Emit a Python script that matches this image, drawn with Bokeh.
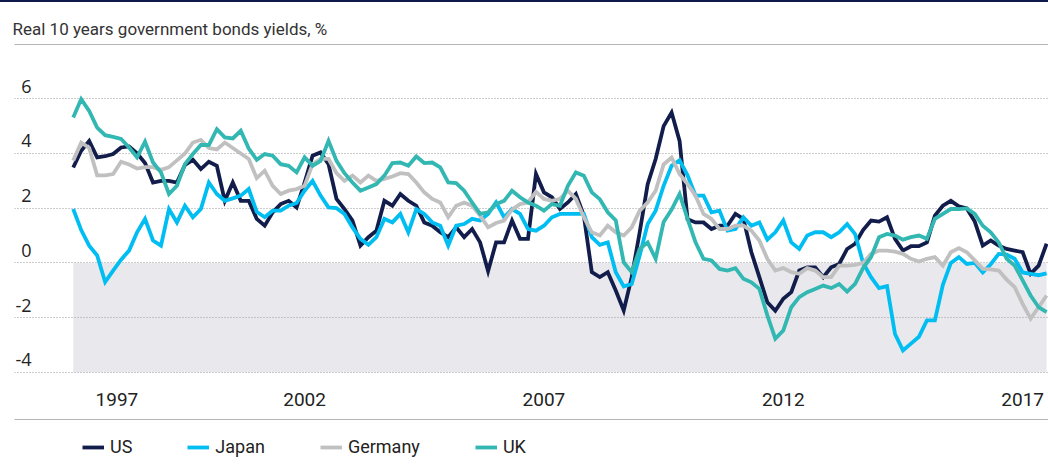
import pandas as pd
from bokeh.plotting import figure
from bokeh.layouts import column
from bokeh.models import (Range1d, FixedTicker, LinearAxis, ColumnDataSource,
                          LabelSet, Legend, LegendItem)
from bokeh.core.properties import value
from bokeh.embed import file_html
from bokeh.resources import INLINE

TITLE = "Real 10 years government bonds yields, %"

# bi-monthly observations, March 1997 onwards
dates = pd.date_range("1997-03-01", periods=123, freq="2MS")
years = list(dates.year + (dates.month - 1) / 12.0)

us = [3.49, 4.10, 4.46, 3.86, 3.90, 3.98, 4.22, 4.26, 4.01, 3.65,
      2.94, 3.00, 3.00, 2.94, 3.58, 3.77, 3.43, 3.70, 3.55, 2.27,
      2.94, 2.27, 2.27, 1.61, 1.36, 1.85, 2.15, 2.27, 2.03, 2.94,
      3.92, 4.04, 3.61, 2.34, 1.97, 1.55, 0.63, 0.94, 1.18, 2.27,
      2.09, 2.52, 2.27, 2.09, 1.48, 1.36, 1.12, 0.94, 1.30, 0.94,
      1.24, 0.75, -0.30, 0.75, 0.75, 1.55, 0.88, 0.88, 3.25, 2.58,
      2.40, 1.97, 2.21, 2.52, 1.73, -0.34, -0.52, -0.34, -1.01, -1.74,
      -0.52, 1.12, 2.88, 3.80, 5.00, 5.50, 4.46, 1.60, 1.48, 1.48,
      1.24, 1.36, 1.36, 1.79, 1.61, 0.39, -0.52, -1.44, -1.75, -1.31,
      -1.07, -0.28, -0.16, -0.16, -0.52, -0.16, -0.04, 0.51, 0.70, 1.20,
      1.55, 1.51, 1.67, 0.88, 0.45, 0.61, 0.61, 0.75, 1.73, 2.09,
      2.27, 2.07, 1.99, 1.51, 0.63, 0.82, 0.63, 0.51, 0.45, 0.39,
      -0.40, -0.10, 0.70]

japan = [1.97, 1.20, 0.63, 0.27, -0.70, -0.28, 0.12, 0.45, 1.12, 1.61,
         0.82, 0.63, 1.97, 1.48, 2.09, 1.67, 1.97, 2.94, 2.52, 2.27,
         2.36, 2.46, 2.70, 1.87, 1.67, 1.91, 1.91, 2.09, 2.19, 2.64,
         3.00, 2.46, 2.03, 2.00, 1.79, 1.30, 0.88, 0.66, 0.94, 1.61,
         1.48, 1.79, 1.12, 1.97, 1.79, 1.48, 1.36, 0.63, 1.36, 1.42,
         1.61, 1.55, 1.79, 2.21, 1.67, 1.97, 1.79, 1.24, 1.18, 1.36,
         1.67, 1.79, 1.79, 1.79, 1.79, 0.94, 0.66, 0.75, -0.34, -0.86,
         -0.77, 0.27, 1.42, 1.91, 2.82, 3.55, 3.75, 3.20, 2.46, 2.46,
         1.85, 1.91, 1.18, 1.24, 1.67, 1.36, 1.48, 0.85, 1.12, 1.55,
         0.75, 0.51, 1.00, 1.12, 1.12, 0.94, 1.12, 1.42, 1.05, 0.00,
         -0.52, -0.92, -0.85, -2.60, -3.20, -2.95, -2.70, -2.10, -2.10, -0.80,
         0.00, 0.21, -0.04, 0.00, -0.35, -0.05, 0.33, 0.30, 0.15, -0.35,
         -0.40, -0.45, -0.38]

germany = [3.74, 4.40, 4.20, 3.20, 3.20, 3.25, 3.70, 3.60, 3.45, 3.50,
           3.50, 3.40, 3.50, 3.75, 4.00, 4.40, 4.50, 4.20, 4.15, 4.40,
           4.20, 4.00, 3.80, 3.10, 3.37, 2.82, 2.52, 2.64, 2.70, 2.82,
           3.61, 3.80, 3.80, 3.28, 3.00, 3.19, 2.94, 3.19, 3.00, 3.07,
           3.16, 3.28, 3.25, 2.94, 2.58, 2.34, 2.21, 1.67, 2.09, 2.21,
           2.09, 1.73, 1.30, 1.46, 1.55, 1.95, 2.15, 2.21, 2.60, 2.34,
           2.27, 2.34, 2.64, 2.34, 1.67, 1.12, 1.00, 1.36, 1.12, 1.00,
           1.30, 1.91, 2.21, 2.64, 3.60, 3.85, 3.25, 2.88, 2.46, 1.79,
           1.61, 1.24, 1.24, 1.36, 1.36, 1.18, 0.82, 0.15, -0.28, -0.19,
           -0.34, -0.40, -0.19, -0.28, -0.52, -0.52, -0.10, -0.10, -0.07, 0.00,
           0.33, 0.45, 0.45, 0.41, 0.33, 0.15, 0.05, 0.15, 0.21, -0.10,
           0.39, 0.54, 0.39, 0.09, -0.22, -0.24, -0.28, -0.61, -0.89, -1.50,
           -2.04, -1.62, -1.19]

uk = [5.32, 5.99, 5.56, 4.95, 4.67, 4.61, 4.53, 4.22, 3.86, 4.43,
      3.67, 3.31, 2.52, 2.82, 3.61, 3.98, 4.31, 4.31, 4.89, 4.59,
      4.55, 4.83, 4.18, 3.77, 3.98, 3.92, 3.61, 3.55, 3.31, 3.86,
      3.55, 3.73, 4.46, 3.73, 3.28, 2.94, 2.64, 2.76, 2.88, 3.19,
      3.65, 3.67, 3.55, 3.89, 3.65, 3.67, 3.49, 2.94, 2.92, 2.64,
      2.21, 1.79, 1.85, 2.15, 2.27, 2.64, 2.40, 2.21, 2.09, 1.91,
      2.15, 2.09, 2.82, 3.31, 3.19, 2.58, 2.33, 1.85, 1.55, 0.02,
      -0.34, 0.51, 0.75, 0.15, 1.50, 1.95, 2.52, 1.61, 0.75, 0.15,
      0.09, -0.22, -0.28, -0.19, -0.58, -0.71, -0.95, -1.92, -2.77, -2.47,
      -1.62, -1.25, -1.07, -0.95, -0.83, -0.92, -0.77, -1.05, -0.77, -0.19,
      0.21, 0.94, 1.06, 1.00, 0.85, 0.94, 1.00, 0.88, 1.61, 1.79,
      1.97, 1.97, 1.99, 1.79, 1.36, 1.12, 0.75, 0.15, -0.10, -0.64,
      -1.19, -1.62, -1.80]

series_names = ["US", "Japan", "Germany", "UK"]
series_colors = ["#121d4b", "#00bdf2", "#c0c0c0", "#33b7b2"]

y_ticks = [-4, -2, 0, 2, 4, 6]
y_labels = ["-4", "-2", "0", "2", "4", "6"]

x_tick_labels = ["1997", "2002", "2007", "2012", "2017"]
x_tick_pos = [1998.08, 2002.0, 2007.0, 2012.0, 2017.0]

X_START, X_END = 1995.94, 2017.54
Y_START, Y_END = -4.08, 7.985

FONT = "Roboto"
LINE_W = 3.8

p = figure(width=1048, height=423, x_range=Range1d(X_START, X_END),
           y_range=Range1d(Y_START, Y_END), output_backend="svg",
           toolbar_location=None, x_axis_location=None, y_axis_location=None,
           title=TITLE, min_border_left=14, min_border_right=0,
           min_border_top=42, min_border_bottom=51)
p.styles = {"border-top": "2px solid #0e1b48"}
p.outline_line_color = None
p.background_fill_color = "white"
p.border_fill_color = "white"

p.title.text_font = FONT
p.title.text_font_size = "17px"
p.title.text_font_style = "normal"
p.title.text_color = "#333333"
p.title.align = "left"
p.title.offset = -2
p.title.standoff = 11

p.xgrid.visible = False
p.ygrid.ticker = FixedTicker(ticks=y_ticks)
p.ygrid.grid_line_color = "#9a9a9a"
p.ygrid.grid_line_width = 1
p.ygrid.grid_line_dash = "1 2"


def rule_axis(tick_out):
    return LinearAxis(ticker=FixedTicker(ticks=[]), axis_line_color="#b5b5b5",
                      major_tick_out=tick_out, major_tick_in=0,
                      major_tick_line_color=None, minor_tick_line_color=None,
                      major_label_standoff=0, major_label_text_font_size="0px")


# grey rule under the title
p.add_layout(rule_axis(0), "above")

# x axis with year labels
xa = LinearAxis(ticker=FixedTicker(ticks=x_tick_pos),
                major_label_overrides=dict(zip(x_tick_pos, x_tick_labels)),
                axis_line_color=None, major_tick_line_color=None,
                minor_tick_line_color=None, major_tick_out=0, major_tick_in=0,
                major_label_standoff=18, major_label_text_font=FONT,
                major_label_text_font_size="19px",
                major_label_text_color="#222222",
                axis_label=" ", axis_label_text_font_size="5px",
                axis_label_standoff=2)
p.add_layout(xa, "below")

# grey rule under the x labels
p.add_layout(rule_axis(0), "below")

# shaded negative region
p.varea(x=[years[0], years[-1]], y1=[y_ticks[0]] * 2, y2=[0, 0],
        fill_color="#e9e9ed", level="image")

sources = []
for name, vals, col in zip(series_names, [us, japan, germany, uk], series_colors):
    src = ColumnDataSource(dict(x=years, y=vals))
    sources.append(src)
    p.line("x", "y", source=src, line_color=col, line_width=LINE_W,
           line_join="miter")

# y tick labels sitting above their gridlines
ysrc = ColumnDataSource(dict(x=[X_START] * len(y_ticks), y=y_ticks, text=y_labels))
p.add_layout(LabelSet(x="x", y="y", text="text", source=ysrc, x_offset=17,
                      y_offset=6, text_align="right", text_baseline="alphabetic",
                      text_font=value("Open Sans"), text_font_size="18px",
                      text_color="#222222"))

# legend strip below the chart (key lines share the series data, outside view)
pl = figure(width=1048, height=44, x_range=Range1d(0, 1), y_range=Range1d(0, 1),
            output_backend="svg", toolbar_location=None, x_axis_location=None,
            y_axis_location=None, min_border_left=0, min_border_right=0,
            min_border_top=0, min_border_bottom=0)
pl.outline_line_color = None
pl.xgrid.visible = False
pl.ygrid.visible = False
pl.background_fill_color = "white"
pl.border_fill_color = "white"
key_renderers = [pl.line("x", "y", source=s, line_color=c, line_width=LINE_W)
                 for s, c in zip(sources, series_colors)]
legend = Legend(items=[LegendItem(label=n, renderers=[r])
                       for n, r in zip(series_names, key_renderers)],
                orientation="horizontal", location=(68, 10), padding=2,
                margin=0, spacing=55, glyph_width=22, glyph_height=20,
                label_standoff=6, label_text_font=FONT,
                label_text_font_size="18px", label_text_color="#222222",
                border_line_color=None, background_fill_alpha=0)
pl.add_layout(legend, "center")

layout = column(p, pl, spacing=0)
open("out.html", "w").write(file_html(layout, INLINE))
